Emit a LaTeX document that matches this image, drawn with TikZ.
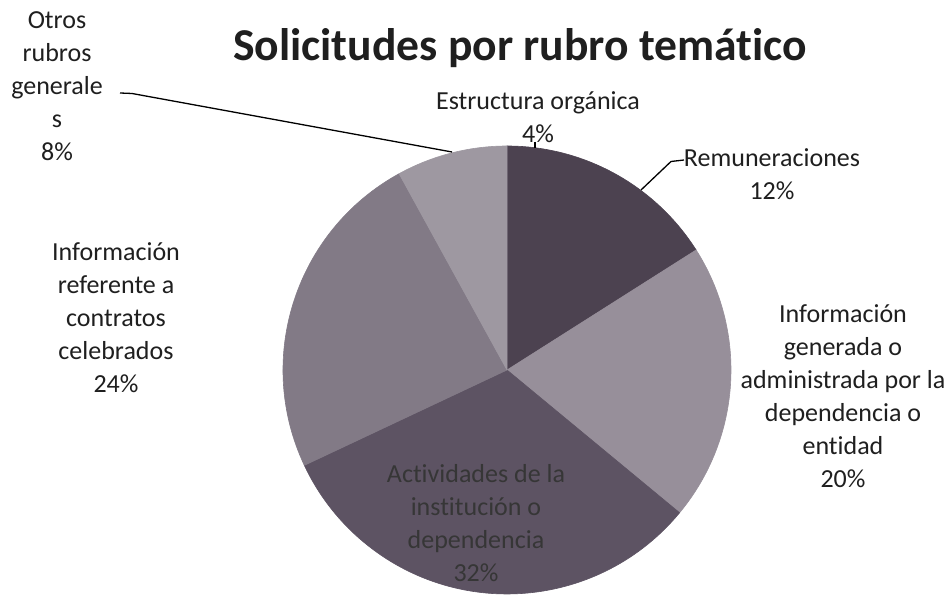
\documentclass[tikz,border=0pt]{standalone}
\usepackage{fontspec}
\setmainfont{Carlito}[Ligatures=NoCommon]
\definecolor{cDark}{HTML}{4C4250}
\definecolor{cOtros}{HTML}{9E98A1}
\definecolor{cRef}{HTML}{827A86}
\definecolor{cGen}{HTML}{978F9A}
\definecolor{cAct}{HTML}{5D5363}
\definecolor{cActTxt}{HTML}{363636}
\begin{document}
\begin{tikzpicture}[x=1pt,y=1pt,
  lbl/.style={align=center,inner sep=0pt,font=\fontsize{26}{33}\selectfont,text=black!88},
  leader/.style={draw=black,line width=1.3pt},
  slice/.style={fill=#1,draw=#1,line width=0.6pt,line join=round}]
\useasboundingbox (0,0) rectangle (952,601);
\fill[white] (0,0) rectangle (952,601);
\coordinate (c) at (507,231);
% slices (clockwise from top): Estructura 4% + Remuneraciones 12% (same dark tone)
\path[slice=cDark] (c) -- ++(90:224) arc[start angle=90,end angle=32.4,radius=224] -- cycle;
\path[slice=cGen] (c) -- ++(32.4:224) arc[start angle=32.4,end angle=-39.6,radius=224] -- cycle;
\path[slice=cAct] (c) -- ++(-39.6:224) arc[start angle=-39.6,end angle=-154.8,radius=224] -- cycle;
\path[slice=cRef] (c) -- ++(205.2:224) arc[start angle=205.2,end angle=118.8,radius=224] -- cycle;
\path[slice=cOtros] (c) -- ++(118.8:224) arc[start angle=118.8,end angle=90,radius=224] -- cycle;
% title
\node[font=\fontsize{45.6}{50}\selectfont\bfseries,text=black!88,inner sep=0pt] (title) at (520,553) {Solicitudes por rubro temático};
% labels
\node[lbl] (lotros) at (57,515) {Otros\\rubros\\generale\\s\\8\%};
\node[lbl] (lestr) at (538,484) {Estructura orgánica\\4\%};
\node[lbl] (lremu) at (772,427) {Remuneraciones\\12\%};
\node[lbl] (lref) at (116,283) {Información\\referente a\\contratos\\celebrados\\24\%};
\node[lbl] (lgen) at (843,205) {Información\\generada o\\administrada por la\\dependencia o\\entidad\\20\%};
\node[lbl,text=cActTxt] (lact) at (476,78) {Actividades de la\\institución o\\dependencia\\32\%};
% leader lines
\coordinate (oA) at (120,508);
\coordinate (oB) at (132,507.5);
\coordinate (oC) at (452,449);
\draw[leader] (oA) -- (oB) -- (oC);
\coordinate (rA) at (684,441);
\coordinate (rB) at (671,439.5);
\coordinate (rC) at (641,411);
\draw[leader] (rA) -- (rB) -- (rC);
\coordinate (eA) at (535,459);
\coordinate (eB) at (535,453);
\draw[leader] (eA) -- (eB);
\end{tikzpicture}
\end{document}
